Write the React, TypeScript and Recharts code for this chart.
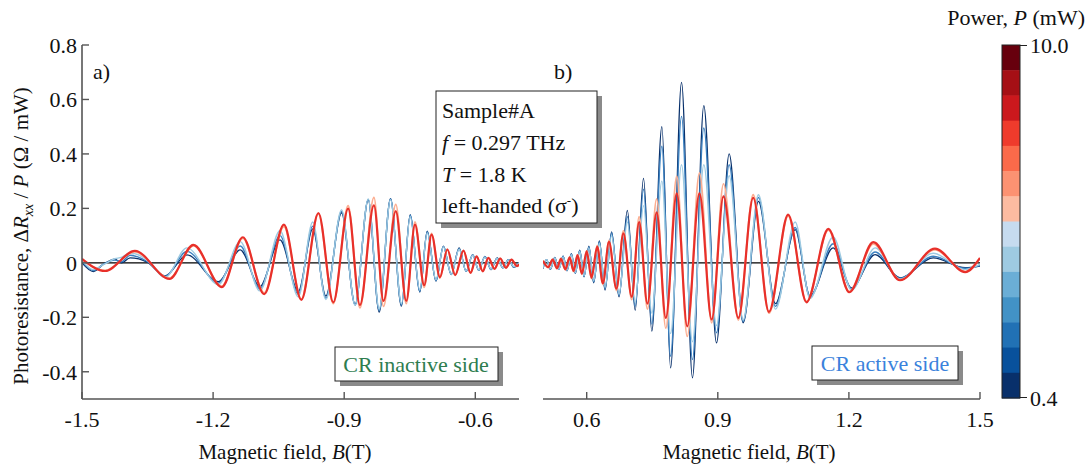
import React from 'react';
import { LineChart, Line, XAxis, YAxis, ReferenceLine } from 'recharts';

const FONT = '"Liberation Serif", "Times New Roman", serif';

// Panel a (CR inactive side) - extrema, B in T, value in Ohm/mW
const aBlueB = [-1.500, -1.474, -1.450, -1.425, -1.410, -1.390, -1.350, -1.310, -1.260, -1.188, -1.138, -1.093, -1.047, -1.005, -0.972, -0.942, -0.906, -0.875, -0.845, -0.820, -0.794, -0.769, -0.749, -0.727, -0.710, -0.690, -0.673, -0.655, -0.637, -0.621, -0.606, -0.592, -0.578, -0.564, -0.550, -0.537, -0.524, -0.512, -0.498];
const aNavy = [0.000, -0.032, -0.004, 0.014, 0.000, 0.018, 0.002, -0.048, 0.029, -0.069, 0.048, -0.087, 0.084, -0.105, 0.125, -0.122, 0.184, -0.153, 0.232, -0.181, 0.236, -0.159, 0.177, -0.107, 0.116, -0.067, 0.061, -0.043, 0.055, -0.031, 0.030, -0.028, 0.024, -0.025, 0.018, -0.018, 0.012, -0.016, 0.004];
const aMid = [0.005, -0.028, -0.004, 0.010, 0.004, 0.028, 0.004, -0.050, 0.042, -0.074, 0.062, -0.095, 0.100, -0.115, 0.135, -0.130, 0.190, -0.155, 0.232, -0.175, 0.235, -0.155, 0.175, -0.105, 0.114, -0.065, 0.060, -0.043, 0.052, -0.031, 0.029, -0.027, 0.023, -0.024, 0.017, -0.018, 0.012, -0.015, 0.004];
const aPale = [0.010, -0.025, -0.006, 0.015, 0.020, 0.036, 0.010, -0.054, 0.055, -0.080, 0.078, -0.103, 0.118, -0.125, 0.150, -0.135, 0.195, -0.155, 0.235, -0.170, 0.232, -0.150, 0.170, -0.100, 0.110, -0.062, 0.058, -0.042, 0.050, -0.030, 0.028, -0.026, 0.022, -0.023, 0.016, -0.017, 0.011, -0.014, 0.003];
const aRedB = [-1.500, -1.447, -1.379, -1.300, -1.245, -1.180, -1.132, -1.083, -1.038, -0.998, -0.959, -0.925, -0.891, -0.864, -0.832, -0.810, -0.782, -0.758, -0.738, -0.717, -0.700, -0.681, -0.664, -0.646, -0.627, -0.611, -0.597, -0.583, -0.570, -0.556, -0.543, -0.530, -0.517, -0.505, -0.498];
const aPeach = [0.012, -0.028, 0.040, -0.056, 0.062, -0.086, 0.090, -0.110, 0.133, -0.133, 0.180, -0.150, 0.210, -0.165, 0.240, -0.160, 0.215, -0.150, 0.150, -0.090, 0.108, -0.056, 0.050, -0.045, 0.045, -0.036, 0.024, -0.030, 0.018, -0.022, 0.016, -0.018, 0.012, -0.012, -0.005];
const aRed = [0.015, -0.030, 0.044, -0.059, 0.066, -0.089, 0.094, -0.115, 0.140, -0.136, 0.183, -0.145, 0.199, -0.155, 0.211, -0.140, 0.190, -0.140, 0.140, -0.082, 0.104, -0.053, 0.049, -0.045, 0.045, -0.037, 0.024, -0.031, 0.018, -0.022, 0.016, -0.018, 0.012, -0.012, -0.005];

// Panel b (CR active side)
const bBlueB = [0.500, 0.508, 0.517, 0.527, 0.536, 0.546, 0.555, 0.565, 0.574, 0.584, 0.594, 0.605, 0.616, 0.629, 0.642, 0.657, 0.674, 0.693, 0.711, 0.730, 0.749, 0.772, 0.792, 0.817, 0.842, 0.868, 0.897, 0.926, 0.958, 0.993, 1.032, 1.077, 1.111, 1.164, 1.206, 1.260, 1.317, 1.393, 1.466, 1.500];
const bNavy = [-0.021, 0.012, -0.024, 0.020, -0.024, 0.025, -0.029, 0.034, -0.039, 0.047, -0.051, 0.061, -0.073, 0.081, -0.100, 0.114, -0.125, 0.193, -0.174, 0.310, -0.251, 0.500, -0.386, 0.663, -0.422, 0.577, -0.294, 0.400, -0.220, 0.226, -0.150, 0.122, -0.122, 0.055, -0.092, 0.030, -0.055, 0.018, -0.018, -0.012];
const bMid = [-0.020, 0.012, -0.023, 0.019, -0.024, 0.024, -0.028, 0.033, -0.038, 0.045, -0.050, 0.058, -0.070, 0.078, -0.095, 0.110, -0.120, 0.170, -0.160, 0.270, -0.225, 0.428, -0.343, 0.538, -0.355, 0.495, -0.257, 0.360, -0.215, 0.240, -0.160, 0.130, -0.125, 0.070, -0.095, 0.040, -0.057, 0.024, -0.020, -0.010];
const bPale = [-0.018, 0.012, -0.022, 0.018, -0.023, 0.022, -0.027, 0.030, -0.036, 0.042, -0.048, 0.055, -0.066, 0.072, -0.090, 0.100, -0.115, 0.150, -0.145, 0.210, -0.185, 0.300, -0.260, 0.360, -0.290, 0.360, -0.230, 0.320, -0.210, 0.250, -0.170, 0.150, -0.130, 0.095, -0.100, 0.055, -0.060, 0.035, -0.025, -0.005];
const bRedB = [0.500, 0.512, 0.522, 0.532, 0.541, 0.551, 0.561, 0.570, 0.579, 0.589, 0.600, 0.611, 0.624, 0.637, 0.651, 0.668, 0.684, 0.703, 0.720, 0.739, 0.760, 0.781, 0.806, 0.830, 0.858, 0.886, 0.913, 0.947, 0.981, 1.017, 1.061, 1.103, 1.153, 1.201, 1.256, 1.317, 1.397, 1.466, 1.500];
const bPeach = [0.008, -0.017, 0.013, -0.021, 0.016, -0.025, 0.021, -0.032, 0.030, -0.042, 0.045, -0.058, 0.064, -0.080, 0.082, -0.102, 0.118, -0.135, 0.170, -0.170, 0.235, -0.240, 0.318, -0.270, 0.330, -0.220, 0.290, -0.210, 0.250, -0.185, 0.172, -0.142, 0.120, -0.105, 0.070, -0.062, 0.048, -0.032, 0.016];
const bRed = [0.008, -0.016, 0.012, -0.020, 0.015, -0.024, 0.020, -0.030, 0.028, -0.040, 0.042, -0.055, 0.060, -0.075, 0.077, -0.095, 0.108, -0.125, 0.150, -0.150, 0.185, -0.202, 0.255, -0.233, 0.255, -0.208, 0.244, -0.202, 0.239, -0.180, 0.177, -0.145, 0.125, -0.108, 0.076, -0.064, 0.052, -0.034, 0.018];

const yTicks = [-0.4, -0.2, 0, 0.2, 0.4, 0.6, 0.8];
const aXTicks = [-1.5, -1.2, -0.9, -0.6];
const bXTicks = [0.6, 0.9, 1.2, 1.5];

// colour bar, top (10.0 mW) to bottom (0.4 mW)
const powerColors = ['#67000d', '#a50f15', '#cb181d', '#ef3b2c', '#fb6a4a', '#fc9272', '#fcbba1', '#c6dbef', '#9ecae1', '#6baed6', '#4292c6', '#2171b5', '#08519c', '#08306b'];
const powerMax = '10.0';
const powerMin = '0.4';

const lineColors = { navy: '#08306b', mid: '#3a80c0', pale: '#9ecae1', peach: '#fcae91', red: '#e8302a' };

const zip = (bs: number[], vs: number[]) => bs.map((b, i) => ({ b, v: vs[i] }));

const AXIS = '#555';
const tickStyle = { fontFamily: FONT, fontSize: 22, fill: '#111' };

interface Series { key: string; data: { b: number; v: number }[]; color: string; width: number }

const Panel = ({ left, width, margin, yWidth, domain, xTicks, series, showY }: {
  left: number; width: number; margin: any; yWidth: number; domain: [number, number];
  xTicks: number[]; series: Series[]; showY: boolean;
}) => (
  <div style={{ position: 'absolute', left, top: 0 }}>
    <LineChart width={width} height={466} margin={margin}>
      <XAxis xAxisId="b" type="number" dataKey="b" domain={domain} allowDataOverflow ticks={xTicks}
        height={40} tickSize={-7} tickMargin={19} interval={0}
        tickFormatter={(v: number) => v.toFixed(1)} tick={tickStyle}
        axisLine={{ stroke: AXIS, strokeWidth: 1.6 }} tickLine={{ stroke: AXIS, strokeWidth: 1.4 }} />
      <XAxis xAxisId="t" orientation="top" type="number" dataKey="b" domain={domain} allowDataOverflow
        height={0} tick={false} tickLine={false} axisLine={{ stroke: AXIS, strokeWidth: 1.6 }} />
      <YAxis yAxisId="l" type="number" domain={[-0.5, 0.8]} ticks={yTicks} allowDataOverflow width={yWidth}
        tickSize={-7} tickMargin={12} interval={0}
        tick={showY ? tickStyle : false}
        tickFormatter={(v: number) => (v === 0 ? '0' : v.toFixed(1))}
        axisLine={{ stroke: AXIS, strokeWidth: 1.6 }} tickLine={{ stroke: AXIS, strokeWidth: 1.4 }} />
      <YAxis yAxisId="r" orientation="right" type="number" domain={[-0.5, 0.8]} ticks={yTicks} allowDataOverflow
        width={0} tickSize={-7} tick={false} interval={0}
        axisLine={{ stroke: AXIS, strokeWidth: 1.6 }} tickLine={{ stroke: AXIS, strokeWidth: 1.4 }} />
      <ReferenceLine xAxisId="b" yAxisId="l" y={0} stroke="#000" strokeWidth={1.3} />
      {series.map((s) => (
        <Line key={s.key} xAxisId="b" yAxisId="l" data={s.data} dataKey="v" type="monotone"
          stroke={s.color} strokeWidth={s.width} dot={false} activeDot={false} isAnimationActive={false} />
      ))}
    </LineChart>
  </div>
);

const seriesA: Series[] = [
  { key: 'navy', data: zip(aBlueB, aNavy), color: lineColors.navy, width: 1.3 },
  { key: 'mid', data: zip(aBlueB, aMid), color: lineColors.mid, width: 1.4 },
  { key: 'pale', data: zip(aBlueB, aPale), color: lineColors.pale, width: 1.4 },
  { key: 'peach', data: zip(aRedB, aPeach), color: lineColors.peach, width: 1.8 },
  { key: 'red', data: zip(aRedB, aRed), color: lineColors.red, width: 2.2 },
];
const seriesB: Series[] = [
  { key: 'navy', data: zip(bBlueB, bNavy), color: lineColors.navy, width: 1.3 },
  { key: 'mid', data: zip(bBlueB, bMid), color: lineColors.mid, width: 1.4 },
  { key: 'pale', data: zip(bBlueB, bPale), color: lineColors.pale, width: 1.4 },
  { key: 'peach', data: zip(bRedB, bPeach), color: lineColors.peach, width: 1.8 },
  { key: 'red', data: zip(bRedB, bRed), color: lineColors.red, width: 2.2 },
];

const TextBox = ({ x, y, w, h, children }: { x: number; y: number; w: number; h: number; children: React.ReactNode }) => (
  <g>
    <rect x={x + 5} y={y + 5} width={w} height={h} fill="#8a8a8a" />
    <rect x={x} y={y} width={w} height={h} fill="#fff" stroke="#222" strokeWidth={1} />
    {children}
  </g>
);

export default function App() {
  const segH = 353 / powerColors.length;
  return (
    <div style={{ position: 'absolute', left: 0, top: 0, width: 1089, height: 466, background: '#fff', fontFamily: FONT }}>
      <Panel left={0} width={530} margin={{ top: 45, right: 11, bottom: 27, left: 22 }} yWidth={60}
        domain={[-1.5, -0.5]} xTicks={aXTicks} series={seriesA} showY />
      <Panel left={530} width={480} margin={{ top: 45, right: 30, bottom: 27, left: 13 }} yWidth={0}
        domain={[0.5, 1.5]} xTicks={bXTicks} series={seriesB} showY={false} />
      <svg width={1089} height={466} style={{ position: 'absolute', left: 0, top: 0, pointerEvents: 'none' }}
        fontFamily={FONT} fill="#111">
        <text transform="translate(28,236) rotate(-90)" textAnchor="middle" fontSize={21}>
          Photoresistance, Δ<tspan fontStyle="italic">R</tspan>
          <tspan fontStyle="italic" fontSize={14} dy={5}>xx</tspan>
          <tspan dy={-5}> / </tspan><tspan fontStyle="italic">P</tspan> (Ω / mW)
        </text>
        <text x={285} y={459} textAnchor="middle" fontSize={21}>
          Magnetic field, <tspan fontStyle="italic">B</tspan>(T)
        </text>
        <text x={749} y={459} textAnchor="middle" fontSize={21}>
          Magnetic field, <tspan fontStyle="italic">B</tspan>(T)
        </text>
        <text x={93} y={79} fontSize={22}>a)</text>
        <text x={554} y={79} fontSize={22}>b)</text>

        <TextBox x={436} y={91} w={161} h={132}>
          <text x={442} y={118} fontSize={22}>Sample#A</text>
          <text x={442} y={150} fontSize={22}><tspan fontStyle="italic">f</tspan> = 0.297 THz</text>
          <text x={442} y={182} fontSize={22}><tspan fontStyle="italic">T</tspan> = 1.8 K</text>
          <text x={442} y={213} fontSize={22}>left-handed (σ<tspan dy={-8} fontSize={13}>-</tspan><tspan dy={8}>)</tspan></text>
        </TextBox>

        <TextBox x={335} y={347} w={163} h={34}>
          <text x={416} y={372} textAnchor="middle" fontSize={22} fill="#2e7d4f">CR inactive side</text>
        </TextBox>
        <TextBox x={812} y={346} w={146} h={34}>
          <text x={885} y={371} textAnchor="middle" fontSize={22} fill="#3a82dc">CR active side</text>
        </TextBox>

        {powerColors.map((c, i) => (
          <rect key={c} x={1002} y={45 + i * segH} width={18} height={segH + 0.5} fill={c} />
        ))}
        <rect x={1002} y={45} width={18} height={353} fill="none" stroke="#222" strokeWidth={1} />
        <line x1={1020} y1={45.5} x2={1027} y2={45.5} stroke="#222" />
        <line x1={1020} y1={397.5} x2={1027} y2={397.5} stroke="#222" />
        <text x={1030} y={53} fontSize={22}>{powerMax}</text>
        <text x={1030} y={406} fontSize={22}>{powerMin}</text>
        <text x={1085} y={25} textAnchor="end" fontSize={22}>
          Power, <tspan fontStyle="italic">P</tspan> (mW)
        </text>
      </svg>
    </div>
  );
}
